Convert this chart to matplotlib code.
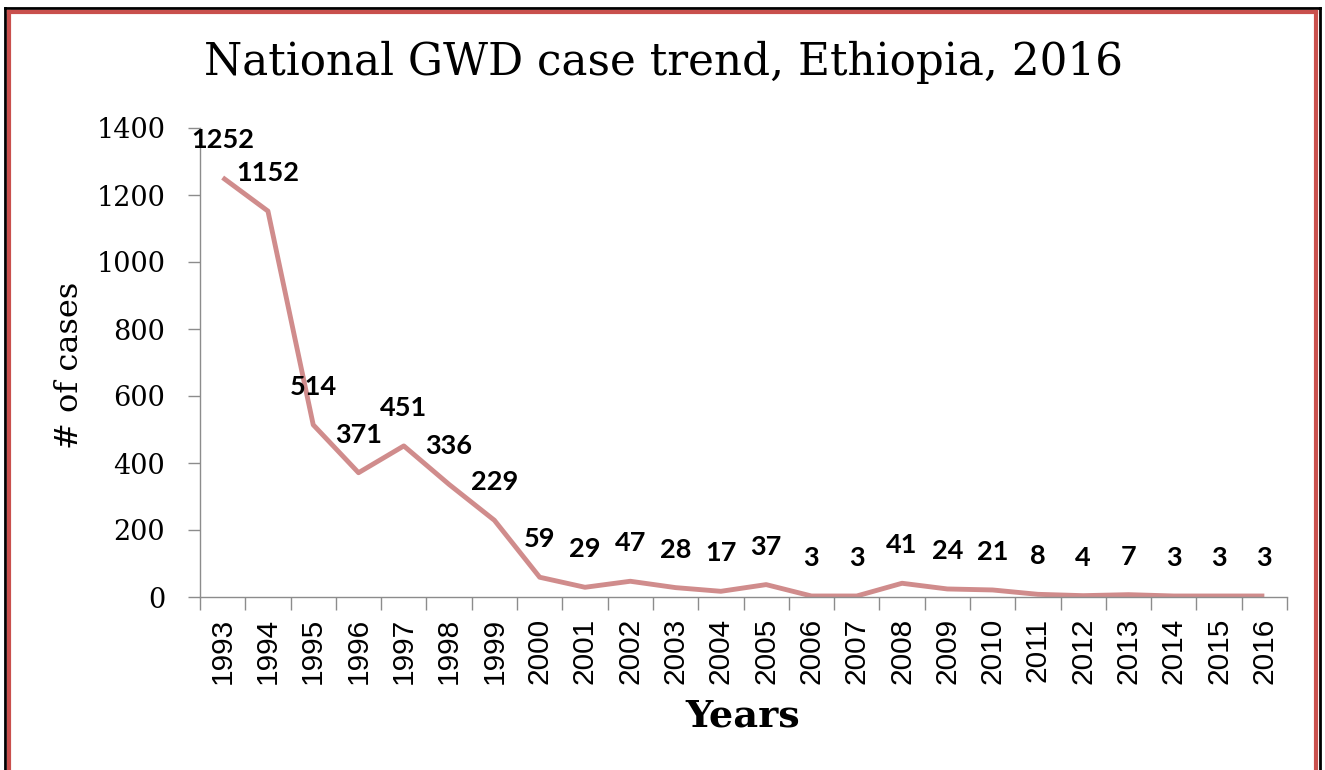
import matplotlib
matplotlib.use("Agg")
import matplotlib.pyplot as plt
from matplotlib.lines import Line2D

years = [str(y) for y in range(1993, 2017)]
cases = [1252, 1152, 514, 371, 451, 336, 229, 59, 29, 47, 28, 17, 37, 3, 3, 41, 24, 21, 8, 4, 7, 3, 3, 3]
yticks = [0, 200, 400, 600, 800, 1000, 1200, 1400]

title = "National GWD case trend, Ethiopia, 2016"
ylabel = "# of cases"
xlabel = "Years"

line_color = "#D08C8C"
grey = "#8C8C8C"

fig = plt.figure(figsize=(13.25, 7.7), dpi=100)
ax = fig.add_axes([200/1325, 1 - 597/770, (1287-200)/1325, (597-128)/770])

x = list(range(len(years)))
ax.plot(x, cases, color=line_color, lw=3.5, solid_joinstyle="round", solid_capstyle="butt")
for xi, v in zip(x, cases):
    ax.annotate(str(v), (xi, v), xytext=(0, 38), textcoords="offset pixels",
                ha="center", va="center", fontsize=19.5, fontweight="bold",
                family=["Lato", "DejaVu Sans"], color="black")

ax.set_xlim(-0.5, len(years) - 0.5)
ax.set_ylim(0, 1400)
ax.set_yticks(yticks)
ax.set_yticklabels([str(t) for t in yticks], family="DejaVu Serif", fontsize=19.5)
ax.set_xticks([i - 0.5 for i in range(len(years) + 1)])
ax.set_xticklabels([])
ax.set_xticks(x, minor=True)
ax.set_xticklabels(years, minor=True, rotation=90, family="Liberation Sans", fontsize=21.5, va="top", ha="center")
ax.tick_params(axis="x", which="minor", length=0, pad=15)
ax.tick_params(axis="x", which="major", length=9, width=1, color=grey, direction="out")
ax.tick_params(axis="y", length=9, width=1, color=grey, direction="out", pad=16)

for s in ["top", "right"]:
    ax.spines[s].set_visible(False)
for s in ["left", "bottom"]:
    ax.spines[s].set_color(grey)
    ax.spines[s].set_linewidth(1)

fig.text(663/1325, 1 - 62/770, title, ha="center", va="center", family="DejaVu Serif", fontsize=31.5)
fig.text(70/1325, 1 - 365/770, ylabel, ha="center", va="center", rotation=90, family="DejaVu Serif", fontsize=23)
fig.text(743/1325, 1 - 716/770, xlabel, ha="center", va="center", family="DejaVu Serif", fontsize=27.5, fontweight="bold")

# border
W, H = 1325, 770
def fl(x0, y0, x1, y1, c, lw):
    fig.add_artist(Line2D([x0/W, x1/W], [1 - y0/H, 1 - y1/H], color=c, lw=lw, transform=fig.transFigure))
fl(5, 8, 5, 770, "black", 2)
fl(5, 8, 1320, 8, "black", 2)
fl(1320, 8, 1320, 770, "black", 2)
fl(9, 12, 9, 770, "#C9504D", 3)
fl(9, 12, 1316, 12, "#C9504D", 3)
fl(1316, 12, 1316, 770, "#C9504D", 3)

fig.savefig("out.png", dpi=100)
